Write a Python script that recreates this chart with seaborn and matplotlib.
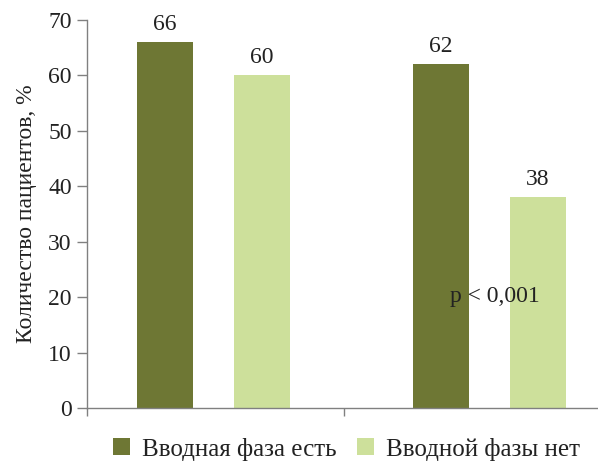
import matplotlib
matplotlib.use("Agg")
import matplotlib.pyplot as plt
from matplotlib.patches import Patch
import seaborn as sns
import pandas as pd

groups = ["A", "B"]
series = ["Вводная фаза есть", "Вводной фазы нет"]
values_present = [66, 62]
values_absent = [60, 38]
colors = ["#6e7734", "#cde09b"]
y_label = "Количество пациентов, %"
p_text = "p < 0,001"

df = pd.DataFrame({
    "group": groups * 2,
    "series": [series[0]] * 2 + [series[1]] * 2,
    "value": values_present + values_absent,
})

sns.set_theme(style="white")
plt.rcParams["font.family"] = ["Liberation Serif", "DejaVu Serif"]

fig = plt.figure(figsize=(5.98, 4.63), dpi=100)
ax = fig.add_axes([87 / 598, 1 - 408 / 463, 511 / 598, 388 / 463])

sns.barplot(data=df, x="group", y="value", hue="series", order=groups,
            hue_order=series, palette=colors, width=0.703, gap=0.42,
            saturation=1, legend=False, linewidth=0, ax=ax)

for cont in ax.containers:
    ax.bar_label(cont, fmt="%g", padding=5, fontsize=17, color="#222222")

ax.set_ylim(0, 70)
ax.set_xlim(-0.4583, 1.393)
ax.set_yticks(range(0, 71, 10))
ax.set_xticks([-0.4583, 0.4728])
ax.set_xticklabels([])
ax.set_xlabel("")
ax.set_ylabel(y_label, fontsize=17, color="#222222", labelpad=8)
ax.tick_params(axis="y", labelsize=17, colors="#222222", length=7,
               color="#808080", width=1, left=True, pad=4)
ax.tick_params(axis="x", length=6, color="#808080", width=1, bottom=True)

for side in ["top", "right"]:
    ax.spines[side].set_visible(False)
for side in ["left", "bottom"]:
    ax.spines[side].set_color("#808080")
    ax.spines[side].set_linewidth(1)

ax.text(1.02, 20.2, p_text, ha="center", va="center", fontsize=17,
        color="#222222")

handles = [Patch(facecolor=c, edgecolor="none", label=s)
           for c, s in zip(colors, series)]
fig.legend(handles=handles, loc="center", bbox_to_anchor=(0.579, 0.03),
           ncol=2, frameon=False, fontsize=18, handlelength=0.68,
           handleheight=0.68, handletextpad=0.48, columnspacing=0.8,
           labelcolor="#222222")

fig.savefig("out.png", dpi=100)
